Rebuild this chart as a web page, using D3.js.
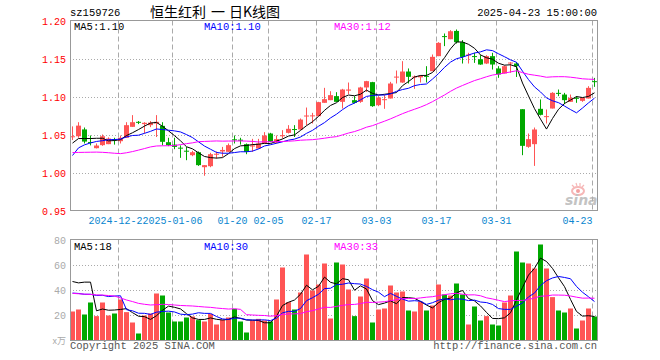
<!DOCTYPE html>
<html><head><meta charset="utf-8">
<script src="https://cdn.jsdelivr.net/npm/d3@7/dist/d3.min.js"></script>
<style>body{margin:0;background:#fff} svg{display:block}</style>
</head><body>
<svg id="c" width="660" height="360"></svg>
<script>
const dates = [
"2024-12-11","2024-12-12","2024-12-13","2024-12-16","2024-12-17","2024-12-18","2024-12-19","2024-12-20","2024-12-23","2024-12-24","2024-12-25","2024-12-26","2024-12-27","2024-12-30","2024-12-31",
"2025-01-02","2025-01-03","2025-01-06","2025-01-07","2025-01-08","2025-01-09","2025-01-10","2025-01-13","2025-01-14","2025-01-15","2025-01-16","2025-01-17","2025-01-20","2025-01-21","2025-01-22","2025-01-23","2025-01-24","2025-01-27",
"2025-02-05","2025-02-06","2025-02-07","2025-02-10","2025-02-11","2025-02-12","2025-02-13","2025-02-14","2025-02-17","2025-02-18","2025-02-19","2025-02-20","2025-02-21","2025-02-24","2025-02-25","2025-02-26","2025-02-27","2025-02-28",
"2025-03-03","2025-03-04","2025-03-05","2025-03-06","2025-03-07","2025-03-10","2025-03-11","2025-03-12","2025-03-13","2025-03-14","2025-03-17","2025-03-18","2025-03-19","2025-03-20","2025-03-21","2025-03-24","2025-03-25","2025-03-26","2025-03-27","2025-03-28","2025-03-31",
"2025-04-01","2025-04-02","2025-04-03","2025-04-07","2025-04-08","2025-04-09","2025-04-10","2025-04-11","2025-04-14","2025-04-15","2025-04-16","2025-04-17","2025-04-18","2025-04-21","2025-04-22","2025-04-23"];

const opens = [1.048,1.049,1.058,1.0415,1.0333,1.0373,1.0386,1.045,1.0425,1.047,1.0614,1.068,1.065,1.0636,1.0658,1.0627,1.0412,1.038,1.034,1.030,1.0241,1.028,1.0083,1.0096,1.025,1.029,1.0285,1.045,1.0445,1.0386,1.0355,1.0329,1.0395,1.0526,1.0404,1.049,1.0535,1.0585,1.0579,1.075,1.0755,1.0754,1.093,1.0965,1.1018,1.0943,1.109,1.0965,1.0943,1.1132,1.1202,1.0899,1.0968,1.0987,1.1265,1.1197,1.1342,1.1268,1.1265,1.1285,1.1346,1.1544,1.1808,1.1767,1.1876,1.1728,1.1555,1.1545,1.1504,1.1447,1.1544,1.1382,1.1316,1.1452,1.1447,1.0846,1.0351,1.0386,1.0851,1.075,1.0855,1.1061,1.1039,1.0943,1.0996,1.0956,1.0987,1.1215];
const highs = [1.062,1.0675,1.0605,1.050,1.0395,1.0513,1.0475,1.047,1.050,1.0675,1.0768,1.069,1.0675,1.069,1.0768,1.0675,1.047,1.047,1.037,1.035,1.0298,1.029,1.011,1.0272,1.029,1.035,1.0395,1.050,1.047,1.0395,1.0456,1.0456,1.0544,1.0535,1.050,1.057,1.0636,1.0636,1.0724,1.0868,1.0798,1.0943,1.1127,1.1083,1.107,1.1114,1.1197,1.1018,1.1141,1.1219,1.1206,1.1018,1.1031,1.1206,1.1355,1.1478,1.1382,1.1289,1.1296,1.1412,1.1566,1.1728,1.1842,1.1886,1.1895,1.1755,1.1588,1.1588,1.1557,1.1557,1.1588,1.1412,1.1421,1.1465,1.1466,1.0846,1.0526,1.0605,1.0974,1.0842,1.1070,1.1105,1.1061,1.1039,1.1018,1.0996,1.1149,1.1258];
const lows = [1.044,1.047,1.0395,1.037,1.033,1.0364,1.0386,1.038,1.0395,1.047,1.0614,1.065,1.0526,1.061,1.048,1.037,1.036,1.032,1.0206,1.0175,1.0228,1.010,0.997,1.0083,1.0197,1.022,1.0285,1.0395,1.038,1.0254,1.0285,1.0329,1.0395,1.0412,1.0395,1.046,1.0527,1.048,1.0575,1.0636,1.0658,1.0754,1.093,1.0965,1.094,1.0855,1.1044,1.0921,1.0930,1.1074,1.0877,1.0886,1.0851,1.0987,1.1184,1.1193,1.1184,1.1114,1.1197,1.1197,1.1346,1.1544,1.1676,1.1767,1.171,1.1447,1.1447,1.1456,1.1430,1.1440,1.1368,1.1259,1.1316,1.1325,1.127,1.0241,1.0338,1.010,1.0764,1.0658,1.0855,1.1018,1.0912,1.0943,1.093,1.0943,1.0987,1.114];
const closes = [1.049,1.063,1.042,1.041,1.0368,1.049,1.046,1.044,1.047,1.0636,1.0675,1.067,1.0667,1.067,1.068,1.0417,1.0373,1.035,1.033,1.029,1.028,1.011,1.011,1.0254,1.026,1.031,1.0373,1.044,1.0435,1.0285,1.037,1.0395,1.050,1.0417,1.0452,1.0505,1.0588,1.058,1.071,1.0763,1.0765,1.0939,1.0978,1.1031,1.0943,1.1105,1.1105,1.093,1.1132,1.1215,1.0886,1.100,1.0978,1.1184,1.1275,1.1342,1.1272,1.1276,1.1285,1.1277,1.1535,1.1719,1.180,1.1872,1.1728,1.1534,1.1565,1.154,1.1434,1.1544,1.1434,1.1303,1.1412,1.146,1.1412,1.0364,1.0452,1.0579,1.0772,1.0755,1.1061,1.1055,1.0965,1.0996,1.0985,1.0996,1.1127,1.1205];
const volumes = [23.2,24.8,20.8,30.4,19.5,30.4,20,21.6,32.8,22.7,14.4,5.6,20,21.6,37.6,36,22.4,15.2,15.2,18.4,19.2,16.3,15.2,21.3,12.8,16.5,18.4,25.3,15.2,6.4,16,17.3,16,15.2,32.8,58.4,30.7,24.8,38.4,68.8,40,44.8,61.6,17.6,62.4,60.8,40.8,19.5,35.2,49.6,14.4,24.8,25.6,44,38.4,39.2,24,23.2,31.2,24,28,44.8,36.8,36,45.6,36.8,12.8,27.2,16,19.5,12.8,12,30.4,36,71.2,62.4,61.6,57.6,76.8,57.6,34.7,24,22.4,25.6,9.6,16,25.6,19.2];
// closes / volumes of the 29 sessions before the first visible day (estimated from the MA lines)
const priorCloses = [1.0585,1.0375,1.0365,1.0325,1.058,1.062,1.064,1.062,1.03,1.02,1.01,1.005,1.003,1.03,1.035,1.034,1.029,0.995,0.992,0.996,0.963,1.002,1.016,1.017,1.039,1.033,1.042,1.041,1.035];
const priorVolumes = [34,30,36,32,35,31,32.5,80,71.5,52,49,42,38.6,30,27,28,26.2,27,24,25.8,28,27.5,30,29,29,30.3,17.8,30.4,134.3];

const priceTicks = [1.20,1.15,1.10,1.05,1.00,0.95];
const volumeTicks = [80,60,40,20];
const xTickDates = ["2024-12-23","2025-01-06","2025-01-20","2025-02-05","2025-02-17","2025-03-03","2025-03-17","2025-03-31","2025-04-23"];
const xTickLabels = ["2024-12-23","2025-01-06","01-20","02-05","02-17","03-03","03-17","03-31","04-23"];
const titleParts = ["恒生红利", "一", "日K线图"];
const priceMaLabels = ["MA5:1.10","MA10:1.10","MA30:1.12"];
const volumeMaLabels = ["MA5:18","MA10:30","MA30:33"];
const maPeriods = [5,10,30];
const maColors = ["#000000","#0000ff","#ff00ff"];

const RED = "#ff5555", GREEN = "#00a800", GRID = "#aaaaaa", FRAME = "#999999";
const MONO = "'Liberation Mono','DejaVu Sans Mono',monospace";

const svg = d3.select("#c");
const x = d3.scaleBand().domain(dates).range([69, 597]).paddingInner(0).paddingOuter(0);
const xc = d => x(d) + 3.5;
const y = d3.scaleLinear().domain([0.95, 1.20]).range([211.5, 21.5]);
const yv = d3.scaleLinear().domain([0, 80]).range([340.5, 240.5]);

function movingAvg(prior, vals, n) {
  const all = prior.concat(vals), off = prior.length;
  return vals.map((_, i) => d3.mean(all.slice(off + i - n + 1, off + i + 1)));
}

// header texts
svg.append("text").attr("x", 70).attr("y", 16).attr("font-family", MONO).attr("font-size", 10.5).attr("fill", "#000").text("sz159726");
const title = svg.append("text").attr("y", 17).attr("font-family", "'Noto Sans CJK SC',sans-serif").attr("font-size", 14).attr("fill", "#000");
const titleX = [150, 211, 229];
titleParts.forEach((s, k) => title.append("tspan").attr("x", titleX[k]).text(s));
svg.append("text").attr("x", 597).attr("y", 16).attr("text-anchor", "end").attr("font-family", MONO).attr("font-size", 10.5).attr("fill", "#000").text("2025-04-23 15:00:00");

// panels: gridlines
const panels = [{top: 20.5, bottom: 210.5}, {top: 239.5, bottom: 340.5}];
const gx = d => x(d) + 1.5;
panels.forEach(p => {
  svg.append("g").selectAll("line").data(xTickDates).join("line")
    .attr("x1", gx).attr("x2", gx).attr("y1", p.top).attr("y2", p.bottom + 2)
    .attr("stroke", GRID).attr("stroke-dasharray", "5,3");
});
svg.append("g").selectAll("line").data(priceTicks.slice(1, -1)).join("line")
  .attr("x1", 70).attr("x2", 597).attr("y1", d => y(d)).attr("y2", d => y(d))
  .attr("stroke", GRID).attr("stroke-dasharray", "1,2");
svg.append("g").selectAll("line").data(volumeTicks.slice(1)).join("line")
  .attr("x1", 70).attr("x2", 597).attr("y1", d => yv(d)).attr("y2", d => yv(d))
  .attr("stroke", GRID).attr("stroke-dasharray", "1,2");

// axis labels
svg.append("g").selectAll("text").data(priceTicks).join("text")
  .attr("x", 66).attr("y", d => y(d) - 0.5).attr("dy", "0.35em").attr("text-anchor", "end")
  .attr("font-family", MONO).attr("font-size", 10).attr("fill", "#ff0000").text(d => d.toFixed(2));
svg.append("g").selectAll("text").data(volumeTicks).join("text")
  .attr("x", 66).attr("y", d => yv(d) - 0.5).attr("dy", "0.35em").attr("text-anchor", "end")
  .attr("font-family", MONO).attr("font-size", 10).attr("fill", "#aaaaaa").text(d => d);
svg.append("text").attr("x", 66).attr("y", 344).attr("text-anchor", "end")
  .attr("font-family", "'Noto Sans CJK SC',sans-serif").attr("font-size", 9).attr("fill", "#aaaaaa").text("x万");

const xl = svg.append("g");
xTickDates.forEach((d, k) => {
  const last = k === xTickDates.length - 1;
  const anchor = last ? "end" : "middle";
  const t = xl.append("text").attr("x", gx(d)).attr("y", 224).attr("text-anchor", anchor)
    .attr("font-family", MONO).attr("font-size", 10).attr("fill", "#0a86d0").text(xTickLabels[k]);
  const bb = t.node().getBBox();
  xl.insert("rect", () => t.node()).attr("x", bb.x).attr("y", bb.y).attr("width", bb.width).attr("height", bb.height).attr("fill", "#fff");
});

// candles
const idx = d3.range(dates.length);
const col = i => closes[i] >= opens[i] ? RED : GREEN;
const cg = svg.append("g");
cg.selectAll("line").data(idx).join("line")
  .attr("x1", i => xc(dates[i])).attr("x2", i => xc(dates[i]))
  .attr("y1", i => y(highs[i])).attr("y2", i => y(lows[i]))
  .attr("stroke", col);
cg.selectAll("rect").data(idx).join("rect")
  .attr("x", i => x(dates[i]) + 1).attr("width", 5)
  .attr("y", i => Math.min(y(opens[i]), y(closes[i])))
  .attr("height", i => Math.max(1, Math.abs(y(opens[i]) - y(closes[i]))))
  .attr("fill", col);

// volume bars
svg.append("g").selectAll("rect").data(idx).join("rect")
  .attr("x", i => x(dates[i]) + 1).attr("width", 5)
  .attr("y", i => yv(volumes[i])).attr("height", i => 340.5 - yv(volumes[i]))
  .attr("fill", col);

// MA lines
maPeriods.forEach((n, k) => {
  const pm = movingAvg(priorCloses, closes, n);
  const vm = movingAvg(priorVolumes, volumes, n);
  svg.append("path").datum(idx).attr("fill", "none").attr("stroke", maColors[k]).attr("stroke-width", 1)
    .attr("d", d3.line().x(i => xc(dates[i])).y(i => y(pm[i])));
  svg.append("path").datum(idx).attr("fill", "none").attr("stroke", maColors[k]).attr("stroke-width", 1)
    .attr("d", d3.line().x(i => xc(dates[i])).y(i => yv(vm[i])));
});

// frames
panels.forEach(p => {
  svg.append("rect").attr("x", 70.5).attr("y", p.top).attr("width", 527).attr("height", p.bottom - p.top)
    .attr("fill", "none").attr("stroke", FRAME);
});

// MA legends
const legX = [74, 204, 334];
maPeriods.forEach((n, k) => {
  svg.append("text").attr("x", legX[k]).attr("y", 29.5).attr("font-family", MONO).attr("font-size", 10.5)
    .attr("fill", maColors[k]).text(priceMaLabels[k]);
  svg.append("text").attr("x", legX[k]).attr("y", 250).attr("font-family", MONO).attr("font-size", 10.5)
    .attr("fill", maColors[k]).text(volumeMaLabels[k]);
});

// sina watermark
const wm = svg.append("g").attr("opacity", 0.75);
wm.append("ellipse").attr("cx", 578).attr("cy", 191).attr("rx", 6).attr("ry", 4).attr("fill", "none").attr("stroke", "#f4a0a0").attr("stroke-width", 2);
wm.append("circle").attr("cx", 578).attr("cy", 191).attr("r", 2).attr("fill", "#f08080");
wm.append("path").attr("d", "M572,185 L574,187 M576,183 L577,186 M580,183 L580,186 M584,185 L582,187").attr("stroke", "#f4a0a0").attr("stroke-width", 1.2);
wm.append("text").attr("x", 565).attr("y", 205).attr("font-family", "'DejaVu Sans',sans-serif").attr("font-size", 14)
  .attr("font-style", "italic").attr("font-weight", "bold").attr("fill", "#b0b0b0").text("sina");

// footer
svg.append("text").attr("x", 70).attr("y", 349).attr("font-family", MONO).attr("font-size", 10.5).attr("fill", "#555").text("Copyright 2025 SINA.COM");
svg.append("text").attr("x", 597).attr("y", 349).attr("text-anchor", "end").attr("font-family", MONO).attr("font-size", 10.5).attr("fill", "#555").text("http://finance.sina.com.cn");
</script>
</body></html>
